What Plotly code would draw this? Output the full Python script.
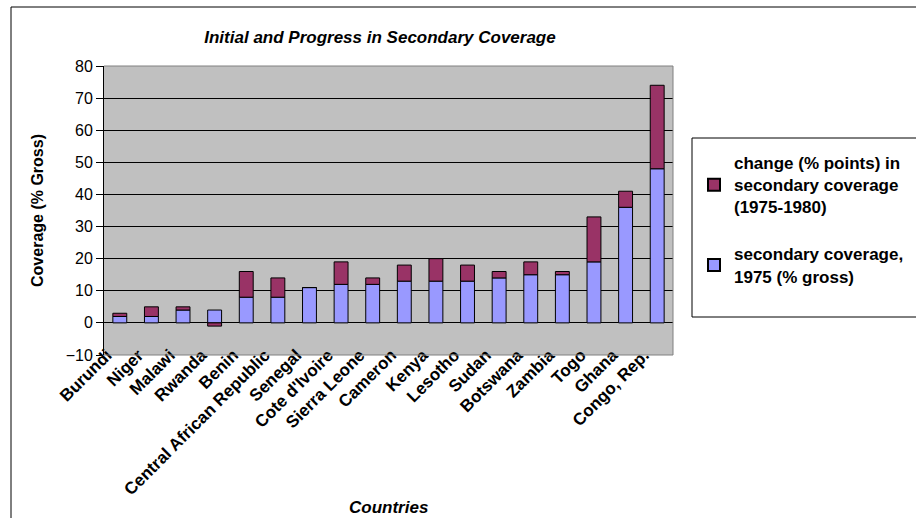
import plotly.graph_objects as go

# Secondary school coverage by country
countries = ["Burundi", "Niger", "Malawi", "Rwanda", "Benin", "Central African Republic",
             "Senegal", "Cote d'Ivoire", "Sierra Leone", "Cameron", "Kenya", "Lesotho",
             "Sudan", "Botswana", "Zambia", "Togo", "Ghana", "Congo, Rep."]
coverage_1975 = [2, 2, 4, 4, 8, 8, 11, 12, 12, 13, 13, 13, 14, 15, 15, 19, 36, 48]
change_1975_1980 = [1, 3, 1, -1, 8, 6, 0, 7, 2, 5, 7, 5, 2, 4, 1, 14, 5, 26]
y_ticks = [-10, 0, 10, 20, 30, 40, 50, 60, 70, 80]

FONT = "Liberation Sans, Arial, sans-serif"
W, H = 916, 518
L, R, T, B = 104, 243, 66, 163
pw, ph = W - L - R, H - T - B


def px_x(x):
    return (x - L) / pw


def px_y(y):
    return (H - B - y) / ph


fig = go.Figure()
fig.add_trace(go.Bar(
    x=countries, y=coverage_1975, name="secondary coverage,<br>1975 (% gross)",
    marker=dict(color="#9999FF", line=dict(color="black", width=1)),
    width=0.44, legendgroup="a", legendrank=2,
))
fig.add_trace(go.Bar(
    x=countries, y=change_1975_1980,
    name="change (% points) in<br>secondary coverage<br>(1975-1980)",
    marker=dict(color="#993366", line=dict(color="black", width=1)),
    width=0.44, legendgroup="b", legendrank=1,
))

fig.update_layout(
    width=W, height=H,
    margin=dict(l=L, r=R, t=T, b=B, autoexpand=False),
    barmode="relative",
    paper_bgcolor="white",
    plot_bgcolor="#C0C0C0",
    font=dict(family=FONT, color="black", size=16),
    title=dict(text="<b><i>Initial and Progress in Secondary Coverage</i></b>",
               x=px_x(380), xref="paper", xanchor="center",
               y=1 - 37 / H, yanchor="middle", font=dict(size=17)),
    showlegend=True,
    legend=dict(
        x=px_x(694), y=px_y(145), xanchor="left", yanchor="top",
        traceorder="grouped", tracegroupgap=22,
        bgcolor="rgba(0,0,0,0)", borderwidth=0,
        font=dict(size=17, weight="bold"),
        itemsizing="constant",
    ),
    xaxis=dict(
        type="category", range=[-0.5, len(countries) - 0.5],
        tickangle=-45, ticks="", showline=False, showgrid=False,
        tickfont=dict(size=17, weight="bold"), automargin=False,
        ticklabelstandoff=-14, ticklabelshift=-13,
    ),
    xaxis2=dict(
        overlaying="x", anchor="free", position=1 / 9,
        range=[-0.5, len(countries) - 0.5], tick0=-0.5, dtick=1,
        ticks="outside", ticklen=6, tickcolor="black",
        showticklabels=False, showgrid=False, zeroline=False,
        showline=True, linecolor="black", linewidth=1,
    ),
    yaxis=dict(
        range=[-10, 80], tickvals=y_ticks,
        showgrid=True, gridcolor="black", gridwidth=1,
        zeroline=True, zerolinecolor="black", zerolinewidth=1,
        showline=True, linecolor="black", linewidth=1,
        ticks="outside", ticklen=7, tickcolor="black",
        tickfont=dict(size=16),
        title=dict(text="<b>Coverage (% Gross)</b>", standoff=18, font=dict(size=16)),
        automargin=False,
    ),
    shapes=[
        # plot area frame (top, right, bottom)
        dict(type="path", xref="paper", yref="paper", path="M 0,1 L 1,1 L 1,0 L 0,0",
             line=dict(color="#808080", width=1), layer="above"),
        # chart border
        dict(type="rect", xref="paper", yref="paper",
             x0=px_x(11), y0=px_y(7), x1=px_x(W + 20), y1=px_y(H + 20),
             line=dict(color="black", width=1), layer="below"),
        # legend frame
        dict(type="rect", xref="paper", yref="paper",
             x0=px_x(692), y0=px_y(138), x1=px_x(W + 20), y1=px_y(317),
             line=dict(color="black", width=1), layer="below"),
    ],
    annotations=[
        dict(text="<b><i>Countries</i></b>", xref="paper", yref="paper",
             x=px_x(388), y=px_y(507), xanchor="center", yanchor="middle",
             showarrow=False, font=dict(size=17)),
    ],
)

fig.write_html("out.html")
